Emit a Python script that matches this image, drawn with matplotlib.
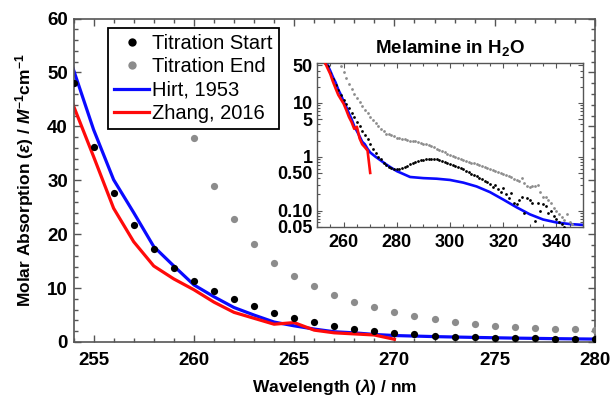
import numpy as np
import matplotlib
matplotlib.use("Agg")
import matplotlib.pyplot as plt
from matplotlib.ticker import MultipleLocator, FixedLocator, FixedFormatter, LogLocator, NullFormatter
from matplotlib.lines import Line2D

plt.rcParams['font.family'] = ['Liberation Sans', 'DejaVu Sans']
plt.rcParams['mathtext.fontset'] = 'custom'
plt.rcParams['mathtext.rm'] = 'Liberation Sans:bold'
plt.rcParams['mathtext.it'] = 'Liberation Sans:bold:italic'
plt.rcParams['mathtext.bf'] = 'Liberation Sans:bold'

# ---------------- data ----------------
start_wl = np.arange(253, 344)
start_eps = [55, 48.1, 36.2, 27.7, 21.7, 17.3, 13.8, 11.4, 9.5, 7.9,
             6.6, 5.4, 4.5, 3.7, 3.0, 2.5, 2.1, 1.7, 1.4, 1.15,
             1.0, 0.9, 0.78, 0.7, 0.65, 0.62, 0.6, 0.58,
             0.6, 0.62, 0.64, 0.68, 0.72, 0.76, 0.8, 0.83, 0.86, 0.88,
             0.89, 0.9, 0.91, 0.9, 0.89, 0.87, 0.84, 0.81, 0.77, 0.74,
             0.71, 0.68, 0.64, 0.61, 0.58, 0.54, 0.51, 0.48, 0.45, 0.43,
             0.41, 0.38, 0.36, 0.34, 0.31, 0.27, 0.3, 0.25, 0.22, 0.26,
             0.2, 0.17, 0.21, 0.14, 0.13, 0.16, 0.18, 0.09, 0.17, 0.16,
             0.14, 0.065, 0.14, 0.1, 0.13, 0.12, 0.09, 0.1, 0.08, 0.07,
             0.06, 0.056, 0.05]

end_wl = np.arange(259, 347)
end_eps = [48, 37.8, 29.0, 22.8, 18.1, 14.7, 12.3, 10.4, 8.7, 7.5,
           6.4, 5.5, 4.8, 4.2, 3.7, 3.3, 3.0, 2.7, 2.6, 2.5,
           2.4, 2.25, 2.2, 2.15, 2.1, 2.05, 2.0, 1.96, 1.92, 1.87,
           1.82, 1.76, 1.7, 1.63, 1.57, 1.5, 1.42, 1.35, 1.27, 1.2,
           1.13, 1.07, 1.03, 1.0, 0.96, 0.92, 0.88, 0.85, 0.81, 0.78,
           0.75, 0.72, 0.69, 0.66, 0.64, 0.62, 0.6, 0.57, 0.54, 0.52,
           0.5, 0.48, 0.46, 0.44, 0.42, 0.39, 0.37, 0.35, 0.4, 0.33,
           0.28, 0.27, 0.29, 0.28, 0.3, 0.22, 0.18, 0.18, 0.16, 0.14,
           0.11, 0.1, 0.086, 0.075, 0.068, 0.086, 0.06, 0.055]

hirt_wl = list(range(253, 271)) + [272, 274, 276, 278, 280, 285, 290, 295, 300,
                                   305, 310, 315, 320, 325, 330, 335, 340, 345, 350]
hirt_eps = [62, 50.5, 39.4, 30.1, 24.0, 17.7, 14.1, 10.6, 8.4, 6.4,
            5.0, 3.7, 3.0, 2.4, 1.9, 1.7, 1.4, 1.2,
            1.0, 0.85, 0.72, 0.62, 0.54, 0.42, 0.40, 0.39, 0.37,
            0.33, 0.28, 0.22, 0.16, 0.115, 0.085, 0.068, 0.06, 0.056, 0.054]

zhang_wl = list(range(253, 271))
zhang_eps = [56, 43.8, 34.4, 24.8, 18.6, 14.1, 11.7, 9.7, 7.4, 5.5,
             4.4, 3.3, 3.6, 2.2, 1.7, 1.5, 1.3, 0.5]

inset_yticks = [0.05, 0.1, 0.5, 1, 5, 10, 50]
inset_yticklabels = ['0.05', '0.10', '0.50', '1', '5', '10', '50']

BLUE = '#0a0aff'
RED = '#ff0a0a'
GRAY = '#8c8c8c'
SPINE = '#555555'

# ---------------- figure ----------------
fig = plt.figure(figsize=(6.14, 3.99), dpi=100)
ax = fig.add_axes([73.5/614, 1-342/399, (595-73.5)/614, (342-18.5)/399])

ax.plot(hirt_wl, hirt_eps, color=BLUE, lw=2.3, zorder=2)
ax.plot(zhang_wl, zhang_eps, color=RED, lw=2.3, zorder=2)
ax.plot(start_wl, start_eps, 'o', color='black', ms=5.2, mew=0, zorder=3)
ax.plot(end_wl, end_eps, 'o', color=GRAY, ms=5.2, mew=0, zorder=3)

ax.set_xlim(254, 280)
ax.set_ylim(0, 60)
ax.xaxis.set_major_locator(MultipleLocator(5))
ax.xaxis.set_minor_locator(MultipleLocator(1))
ax.yaxis.set_major_locator(MultipleLocator(10))
ax.yaxis.set_minor_locator(MultipleLocator(2))
ax.tick_params(which='both', direction='in', top=True, right=True, color=SPINE, width=1)
ax.tick_params(which='major', length=5)
ax.tick_params(which='minor', length=3)
ax.tick_params(axis='x', which='major', pad=7, labelsize=13.5)
ax.tick_params(axis='y', which='major', pad=4, labelsize=13.5)
for lab in ax.get_xticklabels() + ax.get_yticklabels():
    lab.set_fontweight('bold')
for s in ax.spines.values():
    s.set_color(SPINE)
    s.set_linewidth(1.2)

ax.set_xlabel(r'Wavelength ($\lambda$) / nm', fontsize=12.5, fontweight='bold', labelpad=6)
ax.set_ylabel(r'Molar Absorption ($\varepsilon$) / $M^{-1}$cm$^{-1}$', fontsize=12.5,
              fontweight='bold', labelpad=8)

handles = [
    Line2D([], [], ls='none', marker='o', color='black', ms=6, mew=0),
    Line2D([], [], ls='none', marker='o', color=GRAY, ms=6, mew=0),
    Line2D([], [], color=BLUE, lw=2.3),
    Line2D([], [], color=RED, lw=2.3),
]
labels = ['Titration Start', 'Titration End', 'Hirt, 1953', 'Zhang, 2016']
leg = ax.legend(handles, labels, loc='upper left',
                bbox_to_anchor=(108/614, 1-28/399), bbox_transform=fig.transFigure,
                borderaxespad=0, fontsize=14.5, frameon=True, fancybox=False,
                edgecolor='black', framealpha=1, handlelength=1.75, handletextpad=0.15,
                labelspacing=0.22, borderpad=0.3)
leg.get_frame().set_linewidth(1.3)
leg.set_zorder(5)

# ---------------- inset ----------------
ins = fig.add_axes([317/614, 1-226.7/399, (583-317)/614, (226.7-62.7)/399])
ins.plot(hirt_wl, hirt_eps, color=BLUE, lw=1.9, zorder=2)
ins.plot(end_wl, end_eps, 'o', color=GRAY, ms=2.0, mew=0, zorder=3)
ins.plot(start_wl, start_eps, 'o', color='black', ms=2.0, mew=0, zorder=3)
ins.plot(zhang_wl, zhang_eps, color=RED, lw=1.9, zorder=4)
ins.set_yscale('log')
ins.set_xlim(250, 350)
ins.set_ylim(0.05, 56)
ins.xaxis.set_major_locator(MultipleLocator(20))
ins.xaxis.set_minor_locator(MultipleLocator(5))
ins.yaxis.set_major_locator(FixedLocator(inset_yticks))
ins.yaxis.set_major_formatter(FixedFormatter(inset_yticklabels))
ins.yaxis.set_minor_locator(LogLocator(base=10, subs=np.arange(2, 10)))
ins.yaxis.set_minor_formatter(NullFormatter())
ins.tick_params(which='both', direction='in', top=True, right=True, color=SPINE, width=0.8)
ins.tick_params(which='major', length=3.5)
ins.tick_params(which='minor', length=2)
ins.tick_params(axis='x', which='major', pad=5, labelsize=13)
ins.tick_params(axis='y', which='major', pad=3, labelsize=13)
for lab in ins.get_xticklabels() + ins.get_yticklabels():
    lab.set_fontweight('bold')
for s in ins.spines.values():
    s.set_color(SPINE)
    s.set_linewidth(1.0)
ins.set_title(r'Melamine in H$_2$O', fontsize=13.5, fontweight='bold', pad=7)

fig.savefig('out.png', dpi=100)
